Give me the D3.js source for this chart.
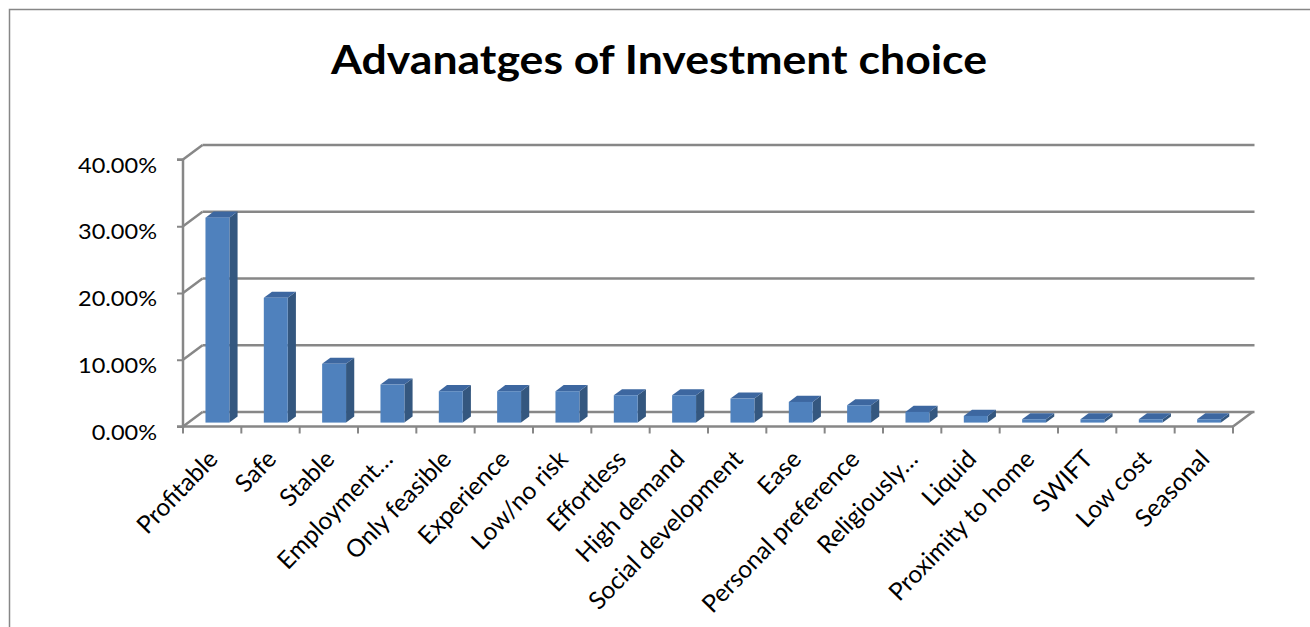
<!DOCTYPE html>
<html>
<head>
<meta charset="utf-8">
<script src="https://cdn.jsdelivr.net/npm/d3@7"></script>
<style>
  html, body { margin: 0; padding: 0; background: #fff; }
  svg { display: block; }
</style>
</head>
<body>
<svg id="chart" width="1310" height="627"></svg>
<script>
const title = "Advanatges of Investment choice";
const categories = ["Profitable", "Safe", "Stable", "Employment\u2026", "Only feasible", "Experience",
  "Low/no risk", "Effortless", "High demand", "Social development", "Ease", "Personal preference",
  "Religiously\u2026", "Liquid", "Proximity to home", "SWIFT", "Low cost", "Seasonal"];
const values = [0.307, 0.187, 0.088, 0.057, 0.047, 0.047, 0.047, 0.041, 0.041, 0.036, 0.031, 0.026,
  0.016, 0.010, 0.005, 0.005, 0.005, 0.005];
const yTicks = [0, 0.1, 0.2, 0.3, 0.4];

const svg = d3.select("#chart");
const font = "Lato, 'Open Sans', sans-serif";
const grey = "#878787";

// chart border
svg.append("rect").attr("x", 9.5).attr("y", 9.5).attr("width", 1320).attr("height", 640)
  .attr("fill", "none").attr("stroke", grey).attr("stroke-width", 1.5);

// title
svg.append("text").attr("x", 659).attr("y", 74).attr("text-anchor", "middle")
  .attr("font-family", font).attr("font-weight", 700).attr("font-size", 41)
  .attr("textLength", 656).attr("lengthAdjust", "spacingAndGlyphs")
  .attr("fill", "#000").text(title);

const left = 183, right = 1233, depthX = 19.5, depthY = -14.5;
const x = d3.scaleBand().domain(categories).range([left, right]).padding(0);
const y = d3.scaleLinear().domain([0, 0.4]).range([426.5, 159.5]);
const bw = x.bandwidth();

// back wall gridlines + left wall diagonals
const grid = svg.append("g");
yTicks.forEach(t => {
  grid.append("line").attr("x1", left + depthX).attr("x2", right + depthX + 2)
    .attr("y1", y(t) + depthY).attr("y2", y(t) + depthY)
    .attr("stroke", grey).attr("stroke-width", 2.5);
  grid.append("line").attr("x1", left).attr("x2", left + depthX)
    .attr("y1", y(t)).attr("y2", y(t) + depthY)
    .attr("stroke", grey).attr("stroke-width", 2.5);
});
// floor front edge and right edge
grid.append("line").attr("x1", left).attr("x2", right).attr("y1", y(0)).attr("y2", y(0))
  .attr("stroke", grey).attr("stroke-width", 2.5);
grid.append("line").attr("x1", right).attr("x2", right + depthX).attr("y1", y(0)).attr("y2", y(0) + depthY)
  .attr("stroke", grey).attr("stroke-width", 2.5);

// y axis
const yAxis = svg.append("g").attr("transform", `translate(${left},0)`)
  .call(d3.axisLeft(y).tickValues(yTicks).tickFormat(d3.format(".2%")).tickSize(6).tickPadding(20));
yAxis.select(".domain").attr("stroke", grey).attr("stroke-width", 2.5).attr("d", `M-6,${y(0.4)}H0V${y(0)}H-6`);
yAxis.selectAll(".tick line").attr("stroke", grey).attr("stroke-width", 2);
yAxis.selectAll(".tick text").attr("font-family", font).attr("font-size", 21).attr("fill", "#000")
  .attr("dy", "0.6em");
yAxis.selectAll(".tick text").each(function() {
  const len = this.getComputedTextLength();
  d3.select(this).attr("textLength", len * 1.12).attr("lengthAdjust", "spacingAndGlyphs");
});

// x tick marks at category boundaries
const bounds = categories.map(c => x(c)).concat([right]);
svg.append("g").selectAll("line").data(bounds).join("line")
  .attr("x1", d => d).attr("x2", d => d).attr("y1", y(0)).attr("y2", y(0) + 7)
  .attr("stroke", grey).attr("stroke-width", 2);

// x labels
const xAxis = svg.append("g").attr("transform", `translate(0,${y(0)})`)
  .call(d3.axisBottom(x).tickSize(0).tickPadding(0));
xAxis.select(".domain").remove();
xAxis.selectAll(".tick text")
  .attr("font-family", font).attr("font-size", 24.5).attr("fill", "#000")
  .attr("text-anchor", "end").attr("dy", "0.35em")
  .attr("transform", "translate(1,28) rotate(-46)");

// 3D bars
const f1 = 0.27, f2 = 0.69;
const barW = bw * 0.41;
const bars = svg.append("g");
categories.forEach((c, i) => {
  const v = values[i];
  const fx = x(c) + bw / 2 - barW / 2 + depthX * f1;
  const fy0 = y(0) + depthY * f1;
  const fy1 = y(v) + depthY * f1;
  const ddx = depthX * (f2 - f1), ddy = depthY * (f2 - f1);
  const g = bars.append("g");
  g.append("path").attr("d",
    `M${fx + barW},${fy0}L${fx + barW + ddx},${fy0 + ddy}L${fx + barW + ddx},${fy1 + ddy}L${fx + barW},${fy1}Z`)
    .attr("fill", "#34577F");
  g.append("path").attr("d",
    `M${fx},${fy1}L${fx + ddx},${fy1 + ddy}L${fx + barW + ddx},${fy1 + ddy}L${fx + barW},${fy1}Z`)
    .attr("fill", "#3D67A0");
  g.append("rect").attr("x", fx).attr("y", fy1).attr("width", barW).attr("height", fy0 - fy1)
    .attr("fill", "#4F81BD");
});
</script>
</body>
</html>
